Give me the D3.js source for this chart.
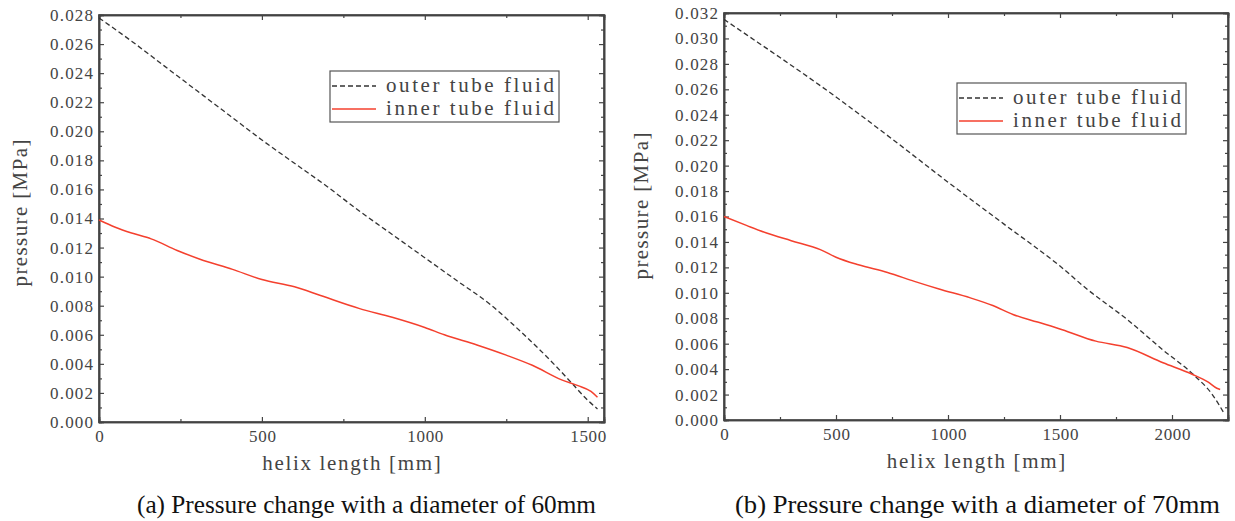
<!DOCTYPE html>
<html>
<head>
<meta charset="utf-8">
<script src="https://cdn.jsdelivr.net/npm/d3@7"></script>
<style>
  body { margin: 0; background: #fff; }
  svg text { fill: #444; }
</style>
</head>
<body>
<div id="myVis"></div>
<script>
// (a) diameter 60mm
const lenOuterA = [0, 100, 200, 300, 400, 500, 600, 700, 800, 900, 1000, 1100, 1200, 1300, 1400, 1450, 1500, 1530]
const presOuterA = [0.0278, 0.0262, 0.0245, 0.0228, 0.0211, 0.0194, 0.0178, 0.0162, 0.0145, 0.0129, 0.0113, 0.0097, 0.0081, 0.0061, 0.0039, 0.0027, 0.0015, 0.0009]
const lenInnerA = [0, 50, 100, 160, 240, 310, 410, 500, 600, 680, 800, 900, 1000, 1060, 1160, 1250, 1330, 1420, 1470, 1510, 1530]
const presInnerA = [0.0139, 0.0134, 0.0130, 0.0126, 0.0118, 0.0112, 0.0105, 0.0098, 0.0093, 0.0087, 0.0078, 0.0072, 0.0065, 0.0060, 0.0053, 0.0046, 0.0039, 0.0029, 0.0025, 0.0021, 0.0017]

// (b) diameter 70mm
const lenOuterB = [0, 100, 250, 500, 750, 1000, 1250, 1500, 1620, 1800, 1960, 2100, 2180, 2230]
const presOuterB = [0.0315, 0.0303, 0.0285, 0.0254, 0.0221, 0.0187, 0.0154, 0.0121, 0.0103, 0.0079, 0.0055, 0.0035, 0.0020, 0.0006]
const lenInnerB = [0, 100, 190, 300, 430, 500, 600, 730, 850, 960, 1100, 1200, 1290, 1400, 1510, 1660, 1800, 1960, 2090, 2160, 2200, 2215]
const presInnerB = [0.0160, 0.0153, 0.0147, 0.0141, 0.0134, 0.0128, 0.0122, 0.0116, 0.0109, 0.0103, 0.0096, 0.0090, 0.0083, 0.0077, 0.0071, 0.0062, 0.0057, 0.0045, 0.0036, 0.0030, 0.0025, 0.0024]

const seriesNames = ["outer tube fluid", "inner tube fluid"]
const xTicksA = [0, 500, 1000, 1500]
const xTicksB = [0, 500, 1000, 1500, 2000]
const captions = ["(a) Pressure change with a diameter of 60mm", "(b) Pressure change with a diameter of 70mm"]

const svg = d3.select("#myVis")
    .append("svg")
        .attr("width", 1235)
        .attr("height", 521)

// serif text spread out to look like the monospaced serif of the original
const serifFont = "'Liberation Serif', 'DejaVu Serif', serif"
const charW = 10.5 // width of one character in titles / legend

function drawPanel(p) {
    const width = p.right - p.left,
          height = p.bottom - p.top

    const g = svg.append("g")
        .attr("transform", "translate(" + p.left + "," + p.top + ")")

    const x = d3.scaleLinear().domain([0, p.xMax]).range([0, width])
    const y = d3.scaleLinear().domain([0, p.yMax]).range([height, 0])

    const yMajor = d3.range(0, p.yMax + 0.0001, 0.002)
    const yMinor = d3.range(0.001, p.yMax, 0.002)
    const xMinor = d3.range(250, p.xMax, 500)

    // minor ticks on all four sides
    const minorAxes = [
        [d3.axisBottom(x).tickValues(xMinor), "translate(0," + height + ")"],
        [d3.axisTop(x).tickValues(xMinor), "translate(0,0)"],
        [d3.axisLeft(y).tickValues(yMinor), "translate(0,0)"],
        [d3.axisRight(y).tickValues(yMinor), "translate(" + width + ",0)"]
    ]
    minorAxes.forEach(a => {
        g.append("g").attr("transform", a[1])
            .call(a[0].tickSize(-3).tickFormat(""))
    })

    // mirrored major ticks on top / right
    g.append("g").call(d3.axisTop(x).tickValues(p.xTicks).tickSize(-5).tickFormat(""))
    g.append("g").attr("transform", "translate(" + width + ",0)")
        .call(d3.axisRight(y).tickValues(yMajor).tickSize(-5).tickFormat(""))

    // labelled axes
    const xAxis = g.append("g")
        .attr("transform", "translate(0," + height + ")")
        .call(d3.axisBottom(x).tickValues(p.xTicks).tickSize(-5).tickPadding(8).tickFormat(d3.format("d")))
    const yAxis = g.append("g")
        .call(d3.axisLeft(y).tickValues(yMajor).tickSize(-5).tickPadding(6).tickFormat(d3.format(".3f")))

    xAxis.selectAll("text")
        .attr("font-family", serifFont).attr("font-size", 17).style("fill", "#444")
        .attr("textLength", function() { return this.textContent.length * 9 })
        .attr("lengthAdjust", "spacing")
    yAxis.selectAll("text")
        .attr("font-family", serifFont).attr("font-size", 17).style("fill", "#444")
        .attr("textLength", 43)
        .attr("lengthAdjust", "spacing")

    g.selectAll(".domain").attr("stroke", "#444").attr("stroke-width", 1.6)
    g.selectAll(".tick line").attr("stroke", "#444").attr("stroke-width", 1.2)

    // frame
    g.append("rect")
        .attr("width", width).attr("height", height)
        .attr("fill", "none").attr("stroke", "#444").attr("stroke-width", 1.6)

    const line = d3.line()
        .x(d => x(d[0]))
        .y(d => y(d[1]))
        .curve(d3.curveMonotoneX)

    g.append("path")
        .datum(d3.zip(p.lenOuter, p.presOuter))
        .attr("d", line)
        .attr("fill", "none")
        .attr("stroke", "#333")
        .attr("stroke-width", 1.3)
        .attr("stroke-dasharray", "5,3")

    g.append("path")
        .datum(d3.zip(p.lenInner, p.presInner))
        .attr("d", line)
        .attr("fill", "none")
        .attr("stroke", "#f4402e")
        .attr("stroke-width", 1.5)

    // axis titles
    const xTitle = "helix length [mm]",
          yTitle = "pressure [MPa]"
    g.append("text")
        .attr("x", width / 2)
        .attr("y", height + 48)
        .attr("text-anchor", "middle")
        .attr("font-family", serifFont)
        .attr("font-size", 21)
        .attr("textLength", xTitle.length * charW)
        .attr("lengthAdjust", "spacing")
        .text(xTitle)

    g.append("text")
        .attr("transform", "translate(" + p.yLabelX + "," + p.yLabelY + ") rotate(-90)")
        .attr("text-anchor", "middle")
        .attr("font-family", serifFont)
        .attr("font-size", 21)
        .attr("textLength", yTitle.length * charW)
        .attr("lengthAdjust", "spacing")
        .text(yTitle)

    // legend
    const lg = svg.append("g")
        .attr("transform", "translate(" + p.legX + "," + p.legY + ")")
    lg.append("rect")
        .attr("width", 229).attr("height", 51)
        .attr("fill", "#fff").attr("stroke", "#555").attr("stroke-width", 1.2)
    seriesNames.forEach((name, i) => {
        lg.append("line")
            .attr("x1", 2).attr("x2", 46)
            .attr("y1", 15 + i * 23).attr("y2", 15 + i * 23)
            .attr("stroke", i == 0 ? "#333" : "#f4402e")
            .attr("stroke-width", i == 0 ? 1.3 : 1.5)
            .attr("stroke-dasharray", i == 0 ? "5,3" : null)
        lg.append("text")
            .attr("x", 56).attr("y", 21 + i * 23)
            .attr("font-family", serifFont)
            .attr("font-size", 21)
            .attr("textLength", name.length * charW)
            .attr("lengthAdjust", "spacing")
            .text(name)
    })

    // caption
    svg.append("text")
        .attr("x", p.capX).attr("y", 513)
        .attr("font-family", serifFont)
        .attr("font-size", 25)
        .attr("textLength", p.capW)
        .attr("lengthAdjust", "spacingAndGlyphs")
        .style("fill", "#111")
        .text(p.caption)
}

drawPanel({
    left: 99, right: 604, top: 15, bottom: 422,
    xMax: 1550, yMax: 0.028, xTicks: xTicksA,
    lenOuter: lenOuterA, presOuter: presOuterA,
    lenInner: lenInnerA, presInner: presInnerA,
    yLabelX: -72, yLabelY: 198,
    legX: 330, legY: 71,
    capX: 137, capW: 459, caption: captions[0]
})

drawPanel({
    left: 724, right: 1228, top: 13, bottom: 420,
    xMax: 2250, yMax: 0.032, xTicks: xTicksB,
    lenOuter: lenOuterB, presOuter: presOuterB,
    lenInner: lenInnerB, presInner: presInnerB,
    yLabelX: -76, yLabelY: 193,
    legX: 957, legY: 83,
    capX: 735, capW: 485, caption: captions[1]
})
</script>
</body>
</html>
